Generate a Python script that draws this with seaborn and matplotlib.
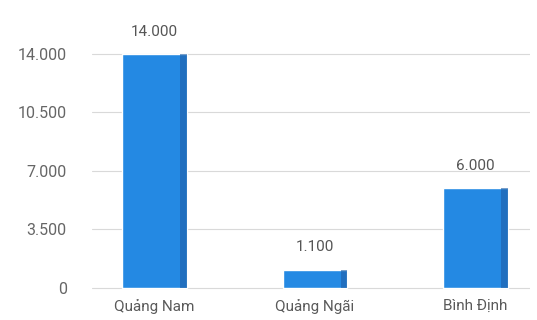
import matplotlib
matplotlib.use("Agg")
import matplotlib.pyplot as plt
import seaborn as sns
import pandas as pd
from matplotlib.ticker import FuncFormatter

provinces = ["Quảng Nam", "Quảng Ngãi", "Bình Định"]
values = [14000, 1100, 6000]
yticks = [0, 3500, 7000, 10500, 14000]

df = pd.DataFrame({"province": provinces, "value": values})

sns.set_theme(style="white")
plt.rcParams["font.family"] = ["Roboto", "DejaVu Sans"]

fig = plt.figure(figsize=(5.37, 3.2), dpi=100)
ax = fig.add_axes([0.171, 0.069, 0.816, 0.9])

sns.barplot(data=df, x="province", y="value", color="#2489e3", width=0.4,
            saturation=1, ax=ax, zorder=3)

# darker right side for the pseudo-3D look
for p in list(ax.patches):
    x0 = p.get_x(); w = p.get_width(); h = p.get_height()
    ax.add_patch(plt.Rectangle((x0 + w * 0.9, 0), w * 0.1, h,
                               color="#1f5fa8", alpha=0.6, zorder=4, lw=0))

fmt = lambda v: f"{int(v):,}".replace(",", ".")
for p, v in zip(ax.patches[:len(values)], values):
    ax.text(p.get_x() + p.get_width() / 2, v + 900, fmt(v), ha="center",
            va="bottom", fontsize=11, color="#555555")

ax.set_ylim(-600, 16640)
ax.set_xlim(-0.39, 2.34)
ax.set_yticks(yticks)
ax.yaxis.set_major_formatter(FuncFormatter(lambda v, _: fmt(v)))
ax.grid(axis="y", color="#d9d9d9", linewidth=0.8, zorder=0)
for s in ax.spines.values():
    s.set_visible(False)
ax.tick_params(axis="y", length=0, pad=18, labelsize=11.5, labelcolor="#666666")
ax.tick_params(axis="x", length=0, pad=1, labelsize=11, labelcolor="#5a5a5a")
ax.set_xlabel("")
ax.set_ylabel("")

fig.savefig("out.png", dpi=100)
